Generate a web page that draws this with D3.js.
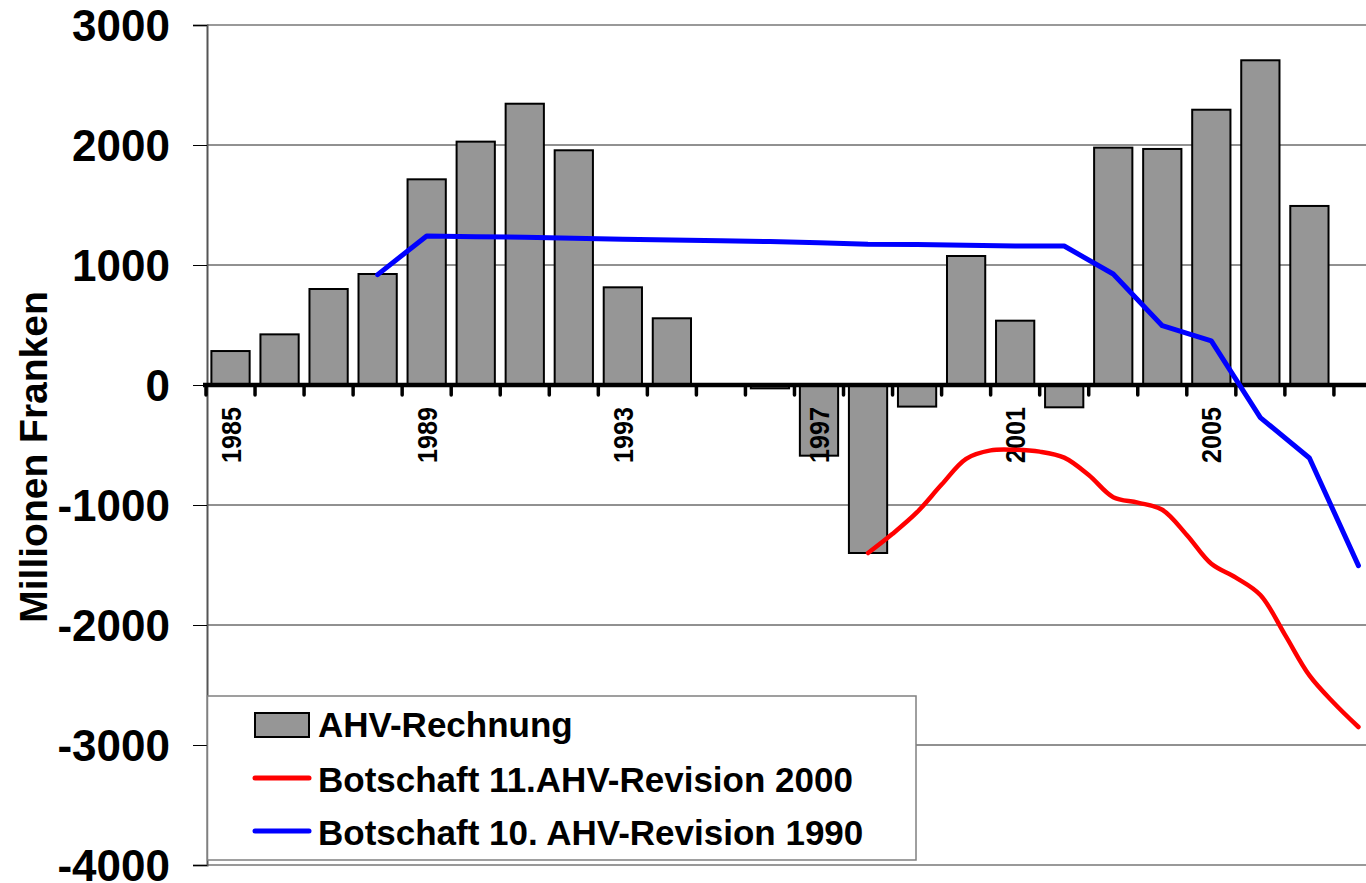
<!DOCTYPE html>
<html>
<head>
<meta charset="utf-8">
<script src="https://cdn.jsdelivr.net/npm/d3@7"></script>
<style>
  body { margin: 0; background: #fff; }
  text { font-family: "Liberation Sans", Arial, sans-serif; font-weight: bold; }
</style>
</head>
<body>
<div id="chart"></div>
<script>
// Jahre (Kategorien)
const years = [1985, 1986, 1987, 1988, 1989, 1990, 1991, 1992, 1993, 1994, 1995, 1996,
               1997, 1998, 1999, 2000, 2001, 2002, 2003, 2004, 2005, 2006, 2007, 2008];

// AHV-Rechnung (Betriebsergebnis, Mio. Fr.)
const ahvRechnung = [283, 422, 800, 925, 1714, 2028, 2344, 1956, 814, 556, 0, -28,
                     -589, -1400, -180, 1075, 536, -186, 1978, 1967, 2294, 2706, 1492, null];

// Botschaft 10. AHV-Revision 1990
const rev10Years = [1988, 1989, 1990, 1991, 1992, 1993, 1994, 1995, 1996, 1997, 1998,
                    1999, 2000, 2001, 2002, 2003, 2004, 2005, 2006, 2007, 2008];
const rev10Values = [920, 1242, 1235, 1232, 1222, 1215, 1208, 1203, 1195, 1185, 1172,
                     1170, 1165, 1158, 1158, 925, 494, 367, -272, -608, -1505];

const rev11Years = [1998, 1998.5, 1999, 1999.5, 2000, 2000.5, 2001, 2001.5, 2002, 2002.5, 2003,
                    2003.5, 2004, 2004.5, 2005, 2005.5, 2006, 2006.5, 2007, 2007.5, 2008];
const rev11Values = [-1400, -1240, -1060, -830, -615, -545, -540, -555, -605, -750, -935,
                     -980, -1040, -1250, -1490, -1605, -1750, -2080, -2420, -2650, -2850];

const yTicks = [3000, 2000, 1000, 0, -1000, -2000, -3000, -4000];
const xTickLabels = ["1985", "1989", "1993", "1997", "2001", "2005"];

const legendItems = [
  { label: "AHV-Rechnung", type: "bar", color: "#969696" },
  { label: "Botschaft 11.AHV-Revision 2000", type: "line", color: "#ff0000" },
  { label: "Botschaft 10. AHV-Revision 1990", type: "line", color: "#0000ff" }
];

const width = 1366, height = 883;
const plot = { left: 207, top: 25, bottom: 865, step: 49.04 };

const svg = d3.select("#chart").append("svg")
  .attr("width", width)
  .attr("height", height);

const x = d3.scaleBand()
  .domain(years)
  .range([plot.left - 1, plot.left - 1 + plot.step * years.length])
  .paddingInner(0.22)
  .paddingOuter(0.11);

const center = yr => x(yr) + x.bandwidth() / 2;
const xYear = d3.scaleLinear()
  .domain([years[0], years[years.length - 1]])
  .range([center(years[0]), center(years[years.length - 1])]);

const y = d3.scaleLinear().domain([-4000, 3000]).range([plot.bottom, plot.top]);

// Gitternetz
svg.append("g")
  .selectAll("line")
  .data(yTicks.filter(d => d !== 0 && d !== 3000 && d !== -4000))
  .join("line")
  .attr("x1", plot.left).attr("x2", width)
  .attr("y1", d => y(d)).attr("y2", d => y(d))
  .attr("stroke", "#222").attr("stroke-width", 1);

// Rahmen oben / unten
svg.append("g")
  .selectAll("line")
  .data([3000, -4000])
  .join("line")
  .attr("x1", plot.left).attr("x2", width)
  .attr("y1", d => y(d)).attr("y2", d => y(d))
  .attr("stroke", "#999").attr("stroke-width", 2);

// Y-Achse
const yAxis = d3.axisLeft(y).tickValues(yTicks).tickSize(14).tickFormat("");
const gy = svg.append("g")
  .attr("transform", `translate(${plot.left},0)`)
  .call(yAxis);
gy.select(".domain").attr("stroke", "#555").attr("stroke-width", 2);
gy.selectAll(".tick line").attr("stroke", "#000").attr("stroke-width", 1);

svg.append("g")
  .selectAll("text")
  .data(yTicks)
  .join("text")
  .attr("x", 170)
  .attr("y", d => y(d))
  .attr("dy", "0.36em")
  .attr("text-anchor", "end")
  .attr("font-size", 44)
  .attr("fill", "#000")
  .text(d => d);

svg.append("text")
  .attr("transform", `translate(47,${457}) rotate(-90)`)
  .attr("text-anchor", "middle")
  .attr("font-size", 39)
  .attr("fill", "#000")
  .text("Millionen Franken");

// Balken
svg.append("g")
  .selectAll("rect")
  .data(years.map((yr, i) => ({ yr, v: ahvRechnung[i] })).filter(d => d.v !== null && d.v !== 0))
  .join("rect")
  .attr("x", d => x(d.yr))
  .attr("width", x.bandwidth())
  .attr("y", d => y(Math.max(0, d.v)))
  .attr("height", d => Math.abs(y(d.v) - y(0)))
  .attr("fill", "#969696")
  .attr("stroke", "#000")
  .attr("stroke-width", 2);

// X-Achse (Nulllinie mit Teilstrichen)
const boundaries = years.map(yr => x(yr) - x.step() * x.paddingOuter());
svg.append("g")
  .selectAll("line")
  .data(boundaries)
  .join("line")
  .attr("x1", d => d).attr("x2", d => d)
  .attr("y1", y(0)).attr("y2", y(0) + 10)
  .attr("stroke", "#000").attr("stroke-width", 3.5)
  .attr("stroke-linecap", "round");

svg.append("line")
  .attr("x1", plot.left - 4).attr("x2", width)
  .attr("y1", y(0)).attr("y2", y(0))
  .attr("stroke", "#000").attr("stroke-width", 4.5);

// X-Beschriftung
svg.append("g")
  .selectAll("text")
  .data(xTickLabels)
  .join("text")
  .attr("transform", d => `translate(${center(+d) + 10},407) rotate(-90)`)
  .attr("text-anchor", "end")
  .attr("font-size", 28)
  .attr("textLength", 56)
  .attr("lengthAdjust", "spacingAndGlyphs")
  .attr("fill", "#000")
  .text(d => d);

// Linien
const lineLin = d3.line().x(d => xYear(d[0])).y(d => y(d[1]));
const lineSmooth = d3.line().x(d => xYear(d[0])).y(d => y(d[1])).curve(d3.curveCatmullRom);

svg.append("path")
  .datum(rev10Years.map((yr, i) => [yr, rev10Values[i]]))
  .attr("d", lineLin)
  .attr("fill", "none")
  .attr("stroke", "#0000ff")
  .attr("stroke-width", 5)
  .attr("stroke-linejoin", "round")
  .attr("stroke-linecap", "round");

svg.append("path")
  .datum(rev11Years.map((yr, i) => [yr, rev11Values[i]]))
  .attr("d", lineSmooth)
  .attr("fill", "none")
  .attr("stroke", "#ff0000")
  .attr("stroke-width", 4.5)
  .attr("stroke-linejoin", "round")
  .attr("stroke-linecap", "round");

// Legende
const legend = svg.append("g");
legend.append("rect")
  .attr("x", 207.5).attr("y", 696)
  .attr("width", 708.5).attr("height", 164)
  .attr("fill", "#fff")
  .attr("stroke", "#808080")
  .attr("stroke-width", 1.5);

const rows = legend.selectAll("g.item")
  .data(legendItems)
  .join("g")
  .attr("class", "item")
  .attr("transform", (d, i) => `translate(0,${[725, 778, 831][i]})`);

rows.filter(d => d.type === "bar").append("rect")
  .attr("x", 255).attr("y", -12)
  .attr("width", 54).attr("height", 24)
  .attr("fill", d => d.color)
  .attr("stroke", "#000").attr("stroke-width", 2);

rows.filter(d => d.type === "line").append("line")
  .attr("x1", 255).attr("x2", 309)
  .attr("stroke", d => d.color)
  .attr("stroke-width", 5)
  .attr("stroke-linecap", "round");

rows.append("text")
  .attr("x", 318)
  .attr("y", d => d.type === "bar" ? 12 : 13.5)
  .attr("font-size", 35)
  .attr("fill", "#000")
  .text(d => d.label);
</script>
</body>
</html>
